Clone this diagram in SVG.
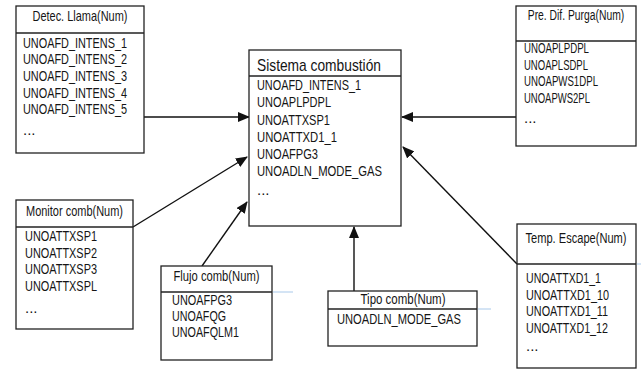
<svg xmlns="http://www.w3.org/2000/svg" width="641" height="371" viewBox="0 0 641 371">
<style>
.box{fill:#fff;stroke:#222;stroke-width:1.3}
.sep{stroke:#222;stroke-width:1.3}
.hl{stroke:#a9c9ea;stroke-width:1}
.t{font-family:"Liberation Sans",Arial,sans-serif;font-size:15px;fill:#151515}
.h{text-anchor:middle}
.ttl{font-family:"Liberation Sans",Arial,sans-serif;font-size:17px;fill:#151515}
.c{stroke:#111;stroke-width:1.4;fill:none;marker-end:url(#ah)}
</style>
<defs>
<marker id="ah" markerUnits="userSpaceOnUse" markerWidth="12" markerHeight="10" refX="11" refY="5" orient="auto">
<path d="M0,0 L12,5 L0,10 Z" fill="#111"/>
</marker>
</defs>
<rect width="641" height="371" fill="#fff"/>

<g id="connectors">
<line class="c" x1="144" y1="117" x2="249" y2="117"/>
<line class="c" x1="516" y1="117" x2="402" y2="117"/>
<line class="c" x1="133" y1="227" x2="247" y2="157"/>
<line class="c" x1="202" y1="266" x2="247" y2="202"/>
<line class="c" x1="354" y1="291" x2="354" y2="227"/>
<line class="c" x1="517" y1="264" x2="403" y2="147"/>
</g>

<g id="detec">
<rect class="box" x="16" y="6" width="128" height="147"/>
<line class="sep" x1="16" y1="33" x2="144" y2="33"/>
<text class="t h" x="80" y="21" textLength="95" lengthAdjust="spacingAndGlyphs">Detec. Llama(Num)</text>
<text class="t" x="23" y="47.5" textLength="104" lengthAdjust="spacingAndGlyphs">UNOAFD_INTENS_1</text>
<text class="t" x="23" y="64.2" textLength="104" lengthAdjust="spacingAndGlyphs">UNOAFD_INTENS_2</text>
<text class="t" x="23" y="80.9" textLength="104" lengthAdjust="spacingAndGlyphs">UNOAFD_INTENS_3</text>
<text class="t" x="23" y="97.6" textLength="104" lengthAdjust="spacingAndGlyphs">UNOAFD_INTENS_4</text>
<text class="t" x="23" y="114.3" textLength="104" lengthAdjust="spacingAndGlyphs">UNOAFD_INTENS_5</text>
<text class="t" x="23" y="135">...</text>
</g>

<g id="sistema">
<rect class="box" x="249" y="50" width="152" height="176"/>
<line class="sep" x1="249" y1="76" x2="401" y2="76"/>
<text class="ttl" x="257" y="71" textLength="124" lengthAdjust="spacingAndGlyphs">Sistema combustión</text>
<text class="t" x="257" y="90" textLength="104" lengthAdjust="spacingAndGlyphs">UNOAFD_INTENS_1</text>
<text class="t" x="257" y="107.3" textLength="74" lengthAdjust="spacingAndGlyphs">UNOAPLPDPL</text>
<text class="t" x="257" y="124.5" textLength="73" lengthAdjust="spacingAndGlyphs">UNOATTXSP1</text>
<text class="t" x="257" y="141.8" textLength="80" lengthAdjust="spacingAndGlyphs">UNOATTXD1_1</text>
<text class="t" x="257" y="159" textLength="61" lengthAdjust="spacingAndGlyphs">UNOAFPG3</text>
<text class="t" x="257" y="176.3" textLength="125" lengthAdjust="spacingAndGlyphs">UNOADLN_MODE_GAS</text>
<text class="t" x="257" y="195">...</text>
</g>

<g id="purga">
<rect class="box" x="516" y="6" width="120" height="140"/>
<line class="sep" x1="516" y1="41" x2="636" y2="41"/>
<text class="t h" transform="translate(576 20) scale(0.69 1)" x="0" y="0">Pre. Dif. Purga(Num)</text>
<text class="t" x="524" y="53" textLength="65" lengthAdjust="spacingAndGlyphs">UNOAPLPDPL</text>
<text class="t" x="524" y="69.5" textLength="64" lengthAdjust="spacingAndGlyphs">UNOAPLSDPL</text>
<text class="t" x="524" y="86" textLength="74" lengthAdjust="spacingAndGlyphs">UNOAPWS1DPL</text>
<text class="t" x="524" y="102.5" textLength="66" lengthAdjust="spacingAndGlyphs">UNOAPWS2PL</text>
<text class="t" x="524" y="123">...</text>
</g>

<g id="monitor">
<rect class="box" x="16" y="200" width="117" height="129"/>
<line class="sep" x1="16" y1="227" x2="133" y2="227"/>
<text class="t h" x="74.5" y="216" textLength="97" lengthAdjust="spacingAndGlyphs">Monitor comb(Num)</text>
<text class="t" x="25" y="241" textLength="72" lengthAdjust="spacingAndGlyphs">UNOATTXSP1</text>
<text class="t" x="25" y="257.5" textLength="72" lengthAdjust="spacingAndGlyphs">UNOATTXSP2</text>
<text class="t" x="25" y="274" textLength="72" lengthAdjust="spacingAndGlyphs">UNOATTXSP3</text>
<text class="t" x="25" y="290.5" textLength="72" lengthAdjust="spacingAndGlyphs">UNOATTXSPL</text>
<text class="t" x="25" y="313">...</text>
</g>

<g id="flujo">
<rect class="box" x="161" y="266" width="111" height="94"/>
<line class="sep" x1="161" y1="292" x2="272" y2="292"/>
<line class="hl" x1="273" y1="292" x2="293" y2="292"/>
<text class="t h" x="216.5" y="281" textLength="86" lengthAdjust="spacingAndGlyphs">Flujo comb(Num)</text>
<text class="t" x="172" y="305" textLength="60" lengthAdjust="spacingAndGlyphs">UNOAFPG3</text>
<text class="t" x="172" y="321" textLength="54" lengthAdjust="spacingAndGlyphs">UNOAFQG</text>
<text class="t" x="172" y="337" textLength="67" lengthAdjust="spacingAndGlyphs">UNOAFQLM1</text>
</g>

<g id="tipo">
<rect class="box" x="328" y="291" width="149" height="55"/>
<line class="sep" x1="328" y1="309" x2="477" y2="309"/>
<line class="hl" x1="478" y1="309" x2="491" y2="309"/>
<text class="t h" x="403" y="304" textLength="85" lengthAdjust="spacingAndGlyphs">Tipo comb(Num)</text>
<text class="t" x="337" y="323.5" textLength="124" lengthAdjust="spacingAndGlyphs">UNOADLN_MODE_GAS</text>
</g>

<g id="temp">
<rect class="box" x="517" y="224" width="119" height="144"/>
<line class="sep" x1="517" y1="264" x2="636" y2="264"/>
<line class="hl" x1="637" y1="264" x2="641" y2="264"/>
<text class="t h" transform="translate(576 243) scale(0.74 1)" x="0" y="0">Temp. Escape(Num)</text>
<text class="t" x="526" y="283" textLength="75" lengthAdjust="spacingAndGlyphs">UNOATTXD1_1</text>
<text class="t" x="526" y="299.5" textLength="83" lengthAdjust="spacingAndGlyphs">UNOATTXD1_10</text>
<text class="t" x="526" y="316" textLength="82" lengthAdjust="spacingAndGlyphs">UNOATTXD1_11</text>
<text class="t" x="526" y="332.5" textLength="82" lengthAdjust="spacingAndGlyphs">UNOATTXD1_12</text>
<text class="t" x="526" y="351">...</text>
</g>
</svg>
